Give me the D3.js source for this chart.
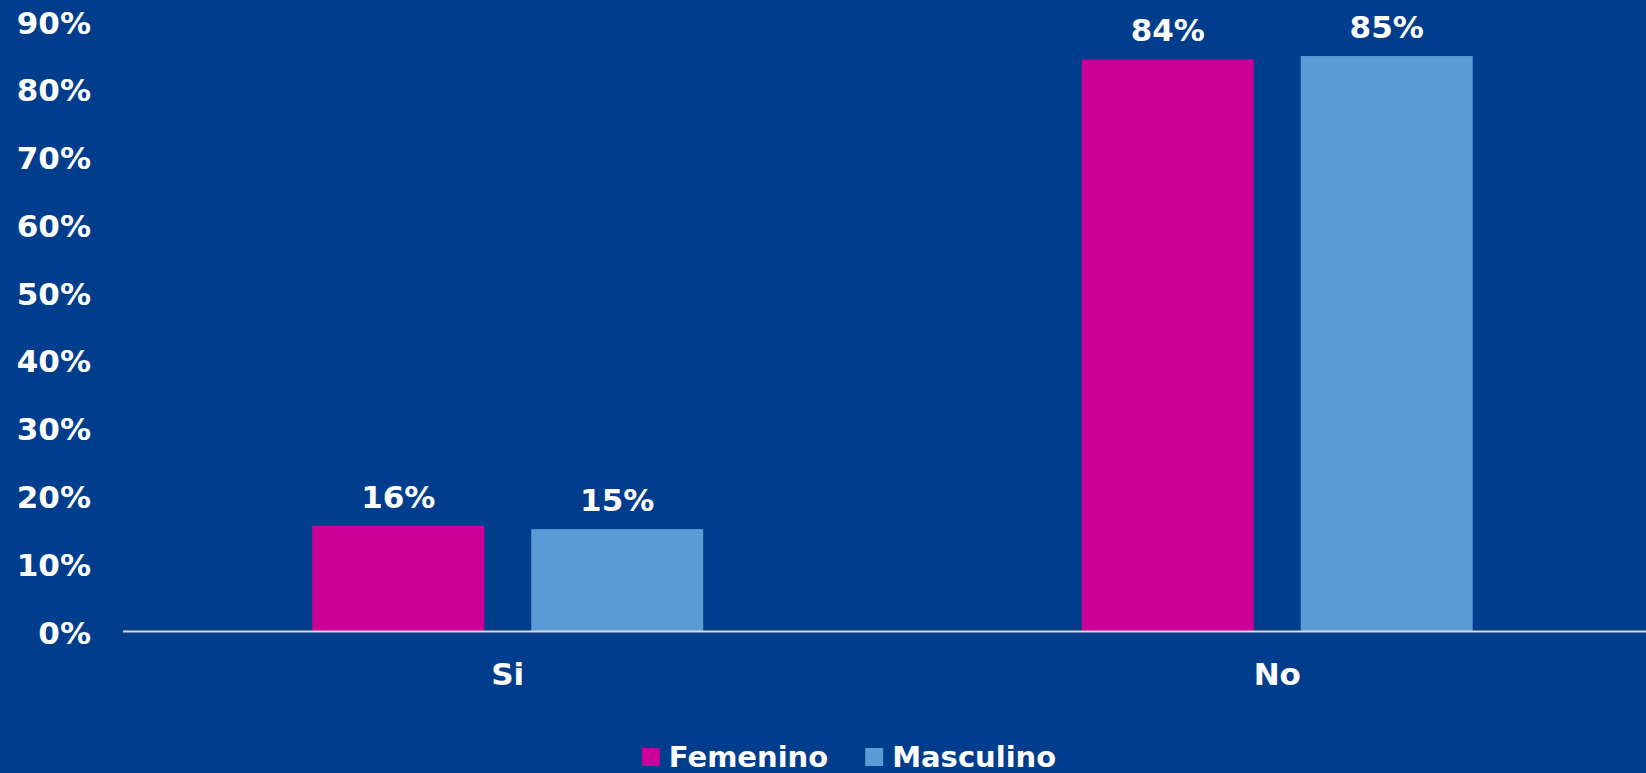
<!DOCTYPE html>
<html>
<head>
<meta charset="utf-8">
<script src="https://cdn.jsdelivr.net/npm/d3@7/dist/d3.min.js"></script>
<style>
  html, body { margin: 0; padding: 0; background: #003D8C; overflow: hidden; }
  text { font-family: "DejaVu Sans", Verdana, sans-serif; font-weight: bold; fill: #ffffff; }
</style>
</head>
<body>
<svg id="chart" width="1646" height="773"></svg>
<script>
const categories = ["Si", "No"];
const seriesNames = ["Femenino", "Masculino"];
const femenino = [15.6, 84.4];
const masculino = [15.1, 84.9];
const valueLabels = [["16%", "84%"], ["15%", "85%"]];
const tickValues = [0, 10, 20, 30, 40, 50, 60, 70, 80, 90];
const colors = ["#CC0099", "#5B9BD5"];

const seriesValues = [femenino, masculino];
const svg = d3.select("#chart");
const W = 1646, H = 773;
svg.append("rect").attr("width", W).attr("height", H).attr("fill", "#003D8C");

const x0 = d3.scaleBand().domain(categories).range([123, 1662])
  .paddingInner(0.492).paddingOuter(0.246);
const x1 = d3.scaleBand().domain(seriesNames).range([0, x0.bandwidth()])
  .paddingInner(0.2146).paddingOuter(0);
const y = d3.scaleLinear().domain([0, 90]).range([631.5, 21.5]);

// Y axis labels
const yAxis = d3.axisLeft(y).tickValues(tickValues).tickFormat(d => d + "%").tickSize(0).tickPadding(0);
const yg = svg.append("g").attr("transform", "translate(91,0)").call(yAxis);
yg.select(".domain").remove();
yg.selectAll("text").attr("font-size", 31).attr("fill", "#fff")
  .style("font-family", '"DejaVu Sans", Verdana, sans-serif').style("font-weight", "bold")
  .attr("dy", null).attr("dominant-baseline", "auto")
  .attr("y", 11.5);

// Bars
const groups = svg.append("g").selectAll("g").data(categories).join("g")
  .attr("transform", d => `translate(${x0(d)},0)`);
seriesNames.forEach((s, si) => {
  groups.append("rect")
    .attr("x", x1(s))
    .attr("width", x1.bandwidth())
    .attr("y", (d, i) => y(seriesValues[si][i]))
    .attr("height", (d, i) => y(0) - y(seriesValues[si][i]))
    .attr("fill", colors[si]);
  groups.append("text")
    .attr("x", x1(s) + x1.bandwidth() / 2)
    .attr("y", (d, i) => y(seriesValues[si][i]) - 18)
    .attr("text-anchor", "middle")
    .attr("font-size", 31)
    .text((d, i) => valueLabels[si][i]);
});

// X axis
const xAxis = d3.axisBottom(x0).tickSize(0).tickPadding(0);
const xg = svg.append("g").attr("transform", `translate(0,${y(0)})`).call(xAxis);
xg.select(".domain").remove();
xg.selectAll("text").attr("font-size", 31).attr("fill", "#fff")
  .style("font-family", '"DejaVu Sans", Verdana, sans-serif').style("font-weight", "bold")
  .attr("dy", null).attr("y", 53);
svg.append("line")
  .attr("x1", 123).attr("x2", W)
  .attr("y1", y(0)).attr("y2", y(0))
  .attr("stroke", "#D9D9D9").attr("stroke-width", 2);

// Legend
const legend = svg.append("g");
let cx = 0;
seriesNames.forEach((s, i) => {
  const g = legend.append("g").attr("transform", `translate(${cx},0)`);
  g.append("rect").attr("x", 0).attr("y", 748).attr("width", 18).attr("height", 18).attr("fill", colors[i]);
  const t = g.append("text").attr("x", 27).attr("y", 766.5).attr("font-size", 29).text(s);
  cx += 27 + t.node().getComputedTextLength() + 37;
});
const totalW = cx - 37;
legend.attr("transform", `translate(${849 - totalW / 2},0)`);
</script>
</body>
</html>
